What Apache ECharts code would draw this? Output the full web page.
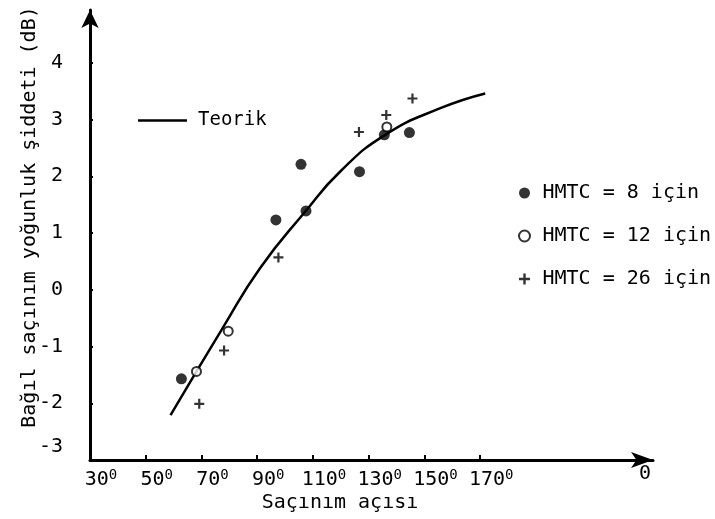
<!DOCTYPE html>
<html>
<head>
<meta charset="utf-8">
<script src="https://cdn.jsdelivr.net/npm/echarts@6/dist/echarts.min.js"></script>
<style>html,body{margin:0;padding:0;background:#fff;}#c{width:715px;height:519px;}</style>
</head>
<body>
<div id="c"></div>
<script>
// ---- data ----
var xTicks = [30, 50, 70, 90, 110, 130, 150, 170];
var yTicks = [-3, -2, -1, 0, 1, 2, 3, 4];
var theory = [[58.9,-2.21],[77.8,-0.66],[91.0,0.38],[107.1,1.37],[119.7,2.08],[135.9,2.73],[155.7,3.20],[171.8,3.46]];
var hmtc8 = [[62.8,-1.57],[96.7,1.23],[105.7,2.21],[107.5,1.39],[126.7,2.08],[135.6,2.73],[144.6,2.77]];
var hmtc12 = [[68.2,-1.44],[79.6,-0.73],[136.5,2.87]];
var hmtc26 = [[69.2,-2.01],[78.1,-1.07],[97.6,0.57],[126.5,2.78],[136.3,3.08],[145.7,3.37]];
var names = ['Teorik', 'HMTC = 8 için', 'HMTC = 12 için', 'HMTC = 26 için'];

var FONT = 'DejaVu Sans Mono';
var plus = 'path://M-1.1,-5 H1.1 V-1.1 H5 V1.1 H1.1 V5 H-1.1 V1.1 H-5 V-1.1 H-1.1 Z';

var chart = echarts.init(document.getElementById('c'), null, {renderer: 'canvas'});
chart.setOption({
  animation: false,
  backgroundColor: '#fff',
  textStyle: {fontFamily: FONT, color: '#000'},
  grid: {left: 90, right: 62, top: 10, bottom: 59, containLabel: false},
  xAxis: {
    type: 'value', min: 30, max: 232,
    splitLine: {show: false},
    axisLine: {onZero: false, lineStyle: {color: '#000', width: 3}, symbol: ['none', 'arrow'], symbolSize: [12, 22]},
    axisTick: {inside: true, length: 5, lineStyle: {color: '#000', width: 2}, customValues: xTicks.slice(1)},
    axisLabel: {
      customValues: xTicks, margin: 8, color: '#000', padding: [0, 0, 0, 22],
      formatter: function (v) { return '{n|' + v + '}{s|0}'; },
      rich: {n: {fontFamily: FONT, fontSize: 20, color: '#000', lineHeight: 24},
             s: {fontFamily: FONT, fontSize: 14, color: '#000', verticalAlign: 'top', lineHeight: 24, padding: [0,0,10,0]}}
    }
  },
  yAxis: {
    type: 'value', min: -3, max: 4.93,
    splitLine: {show: false},
    axisLine: {onZero: false, lineStyle: {color: '#000', width: 3}, symbol: ['none', 'arrow'], symbolSize: [13, 18]},
    axisTick: {inside: true, length: 3, lineStyle: {color: '#000', width: 2}, customValues: yTicks.slice(1)},
    axisLabel: {
      customValues: yTicks, margin: 27, color: '#000', fontFamily: FONT, fontSize: 20,
      formatter: function (v) { return v === -3 ? '{lo|-3}' : String(v); },
      rich: {lo: {fontFamily: FONT, fontSize: 20, color: '#000', padding: [0, 0, 26, 0]}}
    }
  },
  legend: [
    {
      data: [{name: names[0], icon: 'rect'}], left: 133, top: 106, itemWidth: 49, itemHeight: 2.5, itemGap: 0,
      selectedMode: false,
      textStyle: {fontFamily: FONT, fontSize: 19, color: '#000', padding: [0, 0, 0, 6]}
    },
    {
      data: names.slice(1), orient: 'vertical', left: 513, top: 178, itemWidth: 14, itemHeight: 11, itemGap: 23,
      selectedMode: false,
      textStyle: {fontFamily: FONT, fontSize: 20, color: '#000', padding: [0, 0, 0, 6]}
    }
  ],
  graphic: [
    {type: 'text', left: 639, top: 464, style: {text: '0', fontFamily: FONT, fontSize: 20, fill: '#000'}},
    {type: 'text', x: 340, y: 503, style: {text: 'Saçınım açısı', fontFamily: FONT, fontSize: 20, fill: '#000', align: 'center', verticalAlign: 'middle'}},
    {type: 'text', x: 30, y: 217, rotation: Math.PI / 2, style: {text: 'Bağıl saçınım yoğunluk şiddeti (dB)', fontFamily: FONT, fontSize: 20, fill: '#000', align: 'center', verticalAlign: 'middle'}}
  ],
  series: [
    {name: names[0], type: 'line', data: theory, smooth: 0.5, symbol: 'none',
     lineStyle: {color: '#000', width: 2.5}, itemStyle: {color: '#000'}, z: 2},
    {name: names[1], type: 'scatter', data: hmtc8, symbol: 'circle', symbolSize: 11,
     itemStyle: {color: '#000'}, z: 3},
    {name: names[2], type: 'scatter', data: hmtc12, symbol: 'circle', symbolSize: 9,
     itemStyle: {color: '#fff', borderColor: '#000', borderWidth: 2}, z: 4},
    {name: names[3], type: 'scatter', data: hmtc26, symbol: plus, symbolSize: 10,
     itemStyle: {color: '#000'}, z: 3}
  ]
});
</script>
</body>
</html>
